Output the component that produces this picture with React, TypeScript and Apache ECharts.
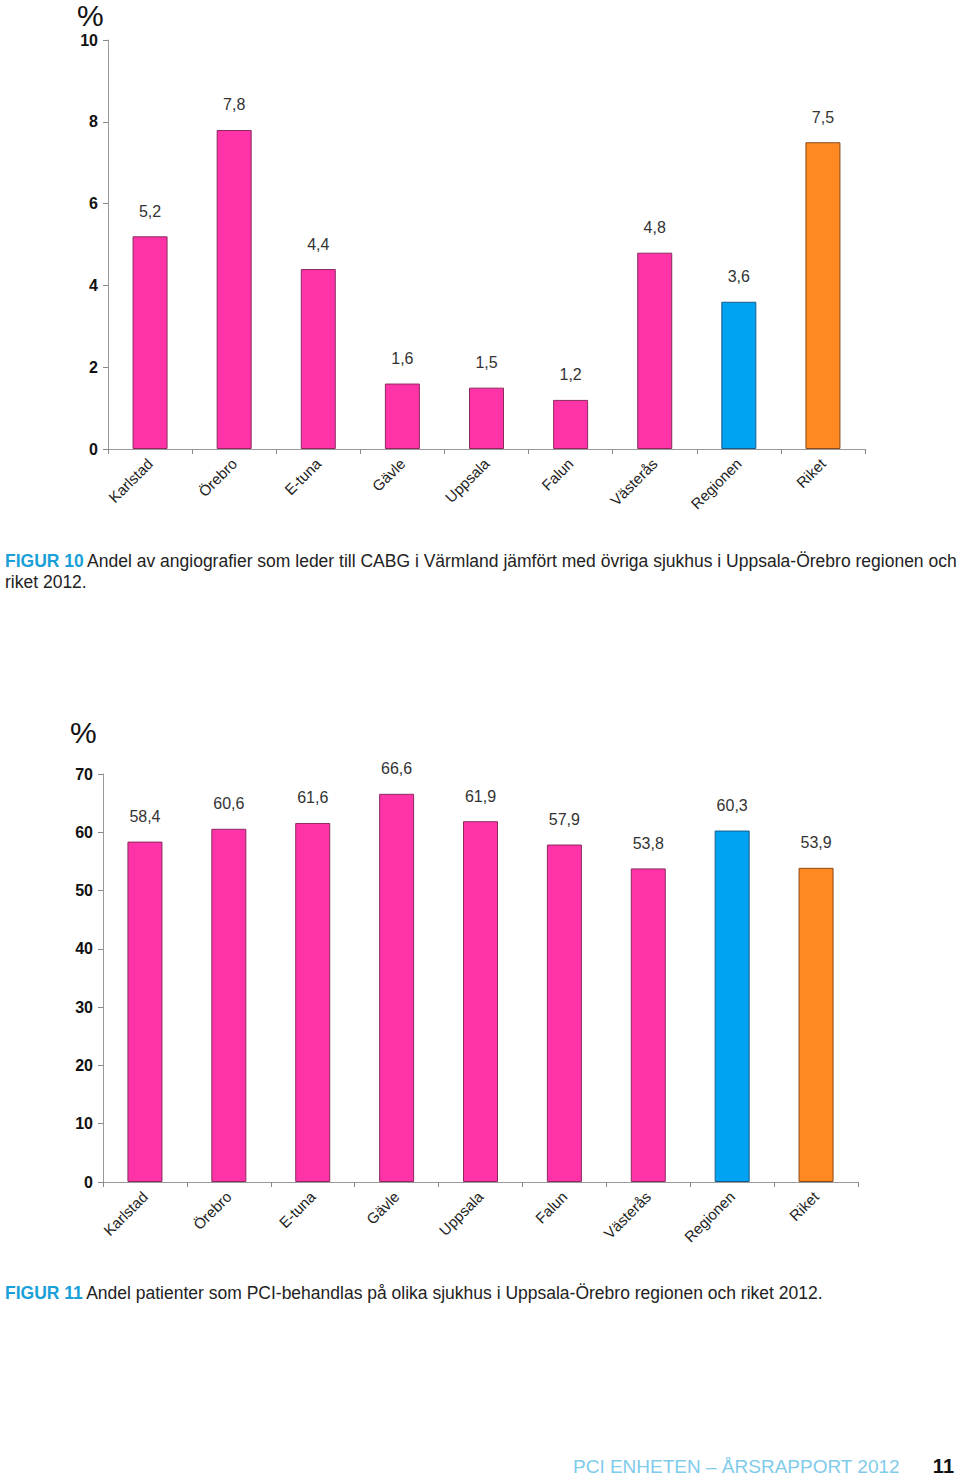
import React, { useEffect, useRef } from "react";
import * as echarts from "echarts";

const categories = ["Karlstad", "Örebro", "E-tuna", "Gävle", "Uppsala", "Falun", "Västerås", "Regionen", "Riket"];
const fig10Values = [5.2, 7.8, 4.4, 1.6, 1.5, 1.2, 4.8, 3.6, 7.5];
const fig11Values = [58.4, 60.6, 61.6, 66.6, 61.9, 57.9, 53.8, 60.3, 53.9];
const barColors = ["#FF33A8", "#FF33A8", "#FF33A8", "#FF33A8", "#FF33A8", "#FF33A8", "#FF33A8", "#00A3F2", "#FF8820"];
const borderColors = ["#8A2A5E", "#8A2A5E", "#8A2A5E", "#8A2A5E", "#8A2A5E", "#8A2A5E", "#8A2A5E", "#1A5A8A", "#8A4A1A"];

const caption10a = "Andel av angiografier som leder till CABG i Värmland jämfört med övriga sjukhus i Uppsala-Örebro regionen och";
const caption10b = "riket 2012.";
const caption11 = "Andel patienter som PCI-behandlas på olika sjukhus i Uppsala-Örebro regionen och riket 2012.";
const footerText = "PCI ENHETEN – ÅRSRAPPORT 2012";
const pageNumber = "11";

const FONT = "'Liberation Sans', Arial, sans-serif";

function makeData(values: number[]) {
  return values.map((v, i) => ({
    value: v,
    itemStyle: { color: barColors[i], borderColor: borderColors[i], borderWidth: 1 },
  }));
}

export default function App() {
  const ref = useRef<HTMLDivElement>(null);
  useEffect(() => {
    if (!ref.current) return;
    const chart = echarts.init(ref.current, null, { renderer: "svg" });
    const xAxisBase = {
      type: "category" as const,
      data: categories,
      axisLine: { lineStyle: { color: "#999", width: 1 } },
      axisTick: { show: true, length: 5, lineStyle: { color: "#888" } },
      axisLabel: { rotate: 45, margin: 12, fontSize: 15, color: "#222", fontFamily: FONT, interval: 0 },
    };
    const yAxisBase = {
      type: "value" as const,
      axisLine: { show: true, lineStyle: { color: "#999", width: 1 } },
      axisTick: { show: true, length: 5, lineStyle: { color: "#888" } },
      splitLine: { show: false },
      axisLabel: { fontSize: 16, fontWeight: "bold" as const, color: "#111", fontFamily: FONT, margin: 10 },
    };
    const labelBase = {
      show: true,
      position: "top" as const,
      distance: 17,
      fontSize: 16,
      color: "#333",
      fontFamily: FONT,
      formatter: (p: any) => String(p.value).replace(".", ","),
    };
    chart.setOption({
      animation: false,
      grid: [
        { left: 108, width: 757, top: 40, height: 409 },
        { left: 103, width: 755, top: 774, height: 408 },
      ],
      xAxis: [
        { ...xAxisBase, gridIndex: 0 },
        { ...xAxisBase, gridIndex: 1 },
      ],
      yAxis: [
        { ...yAxisBase, gridIndex: 0, min: 0, max: 10, interval: 2 },
        { ...yAxisBase, gridIndex: 1, min: 0, max: 70, interval: 10 },
      ],
      series: [
        { type: "bar", xAxisIndex: 0, yAxisIndex: 0, data: makeData(fig10Values), barWidth: 35, label: labelBase },
        { type: "bar", xAxisIndex: 1, yAxisIndex: 1, data: makeData(fig11Values), barWidth: 35, label: labelBase },
      ],
      graphic: [
        { type: "text", left: 77, top: 0, style: { text: "%", fontSize: 30, fill: "#111", fontFamily: FONT } },
        { type: "text", left: 70, top: 717, style: { text: "%", fontSize: 30, fill: "#111", fontFamily: FONT } },
        {
          type: "text", left: 5, top: 552,
          style: {
            rich: {
              b: { fontSize: 17.5, fontWeight: "bold", fill: "#1AA0D8", fontFamily: FONT },
              n: { fontSize: 17.5, fill: "#222", fontFamily: FONT },
            },
            text: "{b|FIGUR 10} {n|" + caption10a + "}",
          },
        },
        { type: "text", left: 5, top: 573, style: { text: caption10b, fontSize: 17.5, fill: "#222", fontFamily: FONT } },
        {
          type: "text", left: 5, top: 1284,
          style: {
            rich: {
              b: { fontSize: 17.5, fontWeight: "bold", fill: "#1AA0D8", fontFamily: FONT },
              n: { fontSize: 17.5, fill: "#222", fontFamily: FONT },
            },
            text: "{b|FIGUR 11} {n|" + caption11 + "}",
          },
        },
        { type: "text", left: 573, top: 1457, style: { text: footerText, fontSize: 19, fill: "#7FCBEA", fontFamily: FONT } },
        { type: "text", right: 6, top: 1456, style: { text: pageNumber, fontSize: 20, fontWeight: "bold", fill: "#111", fontFamily: FONT } },
      ],
    });
    return () => chart.dispose();
  }, []);
  return (
    <div
      ref={ref}
      style={{ position: "absolute", left: 0, top: 0, width: 960, height: 1476, background: "#fff" }}
    />
  );
}
